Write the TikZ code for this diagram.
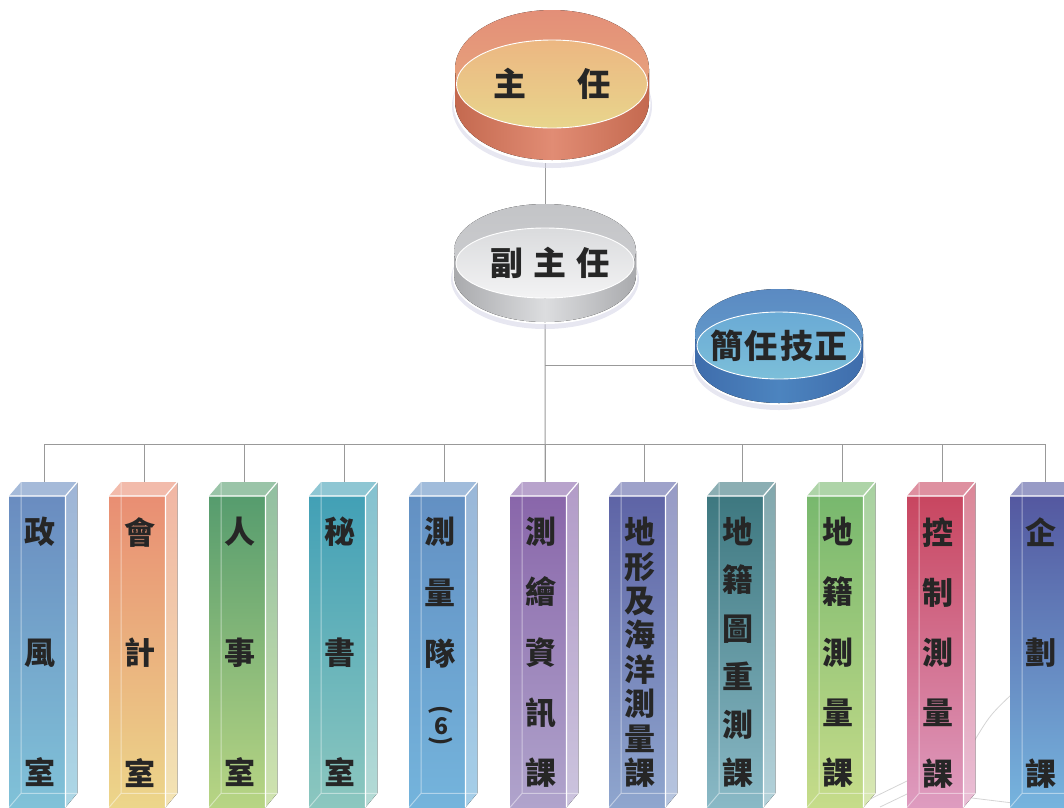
\documentclass[tikz,border=0pt]{standalone}
\usepackage{fontspec}
\newfontfamily\cjk{Noto Sans CJK TC}
\usetikzlibrary{positioning,shapes.geometric,backgrounds}

\definecolor{lavender}{HTML}{D3D3E6}
\definecolor{chiefrim}{HTML}{E38F78}
\definecolor{chiefrimb}{HTML}{E9AC7E}
\definecolor{chiefin}{HTML}{ECB782}
\definecolor{chiefinb}{HTML}{E8D58C}
\definecolor{chiefside}{HTML}{C4694F}
\definecolor{chiefshine}{HTML}{E18C74}
\definecolor{deputyrim}{HTML}{C3C4C7}
\definecolor{deputyrimb}{HTML}{CFD0D2}
\definecolor{deputyin}{HTML}{DADBDD}
\definecolor{deputyinb}{HTML}{F3F3F4}
\definecolor{deputyside}{HTML}{A9AAAD}
\definecolor{deputyshine}{HTML}{DCDDDF}
\definecolor{seniorrim}{HTML}{5B8AC2}
\definecolor{seniorrimb}{HTML}{66A2CF}
\definecolor{seniorin}{HTML}{6AAAD5}
\definecolor{seniorinb}{HTML}{7CBFD9}
\definecolor{seniorside}{HTML}{3F6DAC}
\definecolor{seniorshine}{HTML}{4C84BF}

\begin{document}
\begin{tikzpicture}[x=1pt, y=-1pt,
	colbox/.style={rectangle, minimum width=56pt, minimum height=311pt, inner sep=0pt, anchor=north west},
	coltext/.style={inner sep=0pt, align=center, text=black!85},
	paren/.style={inner sep=0pt, text=black!85, font=\cjk\bfseries\fontsize{23}{24}\selectfont},
	disk/.style={ellipse, inner xsep=-20pt, inner ysep=0pt, draw=white, line width=.9pt,
		font=\cjk\bfseries\fontsize{33}{36}\selectfont, text=black!85},
	wire/.style={draw=black!40, line width=1pt},
	glass/.style={draw=white, opacity=.45, line width=1pt},
	rim/.style={draw=white, line width=1.2pt},
	halo/.style={fill=lavender, opacity=.55},
	deco/.style={draw=black!17, line width=.8pt}]
	\useasboundingbox (0,0) rectangle (1064,807);

	% chief
	\fill[halo] (552,106) ellipse[x radius=100pt, y radius=62pt];
	\fill[white] (552,103) ellipse[x radius=98.5pt, y radius=60pt];
	\fill[left color=chiefside, right color=chiefside, middle color=chiefshine]
		(455,69) rectangle (649,101) (552,101) ellipse[x radius=97pt, y radius=59pt];
	\fill[top color=chiefrim, bottom color=chiefrimb] (552,69) ellipse[x radius=97pt, y radius=59pt];
	\node[disk, top color=chiefin, bottom color=chiefinb, minimum width=191pt, minimum height=88pt]
		(chief) at (552,84) {主\hspace{52pt}任};

	% deputy
	\fill[halo] (545,279) ellipse[x radius=94pt, y radius=50pt];
	\fill[white] (545,276) ellipse[x radius=92.5pt, y radius=48pt];
	\fill[left color=deputyside, right color=deputyside, middle color=deputyshine]
		(454,251) rectangle (636,275) (545,275) ellipse[x radius=91pt, y radius=47pt];
	\fill[top color=deputyrim, bottom color=deputyrimb] (545,251) ellipse[x radius=91pt, y radius=47pt];
	\node[disk, top color=deputyin, bottom color=deputyinb, minimum width=178pt, minimum height=70pt]
		(deputy) at (545,263) {\hspace{10pt}副\hspace{10pt}主\hspace{10pt}任};

	% senior
	\fill[halo] (779,362) ellipse[x radius=87pt, y radius=48pt];
	\fill[white] (779,359) ellipse[x radius=85.5pt, y radius=46pt];
	\fill[left color=seniorside, right color=seniorside, middle color=seniorshine]
		(695,334) rectangle (863,358) (779,358) ellipse[x radius=84pt, y radius=45pt];
	\fill[top color=seniorrim, bottom color=seniorrimb] (779,334) ellipse[x radius=84pt, y radius=45pt];
	\node[disk, top color=seniorin, bottom color=seniorinb, minimum width=164pt, minimum height=67pt]
		(senior) at (779,345.5) {簡\hspace{2pt}任\hspace{2pt}技\hspace{2pt}正\hspace{9pt}};

	% columns
	\foreach \i/\x/\ct/\cb/\g/\txt in {
		1/9/6A8CC0/80C2D8/120.5/{政\\風\\室},
		2/109/E98E73/ECD68A/120.5/{會\\計\\室},
		3/209/569C6E/B8D584/120.5/{人\\事\\室},
		4/309/42A0B6/8CC7BF/120.5/{秘\\書\\室},
		5/409/6390C3/74B4DC/61/{測\\量\\隊},
		6/510/8966AA/B0A4CC/60.25/{測\\繪\\資\\訊\\課},
		7/609/5E64A6/8FA6CE/34.4/{地\\形\\及\\海\\洋\\測\\量\\課},
		8/707/3E7880/8AB9C6/48.2/{地\\籍\\圖\\重\\測\\課},
		9/807/78B86E/C6DC8A/60.25/{地\\籍\\測\\量\\課},
		10/907/C84660/DE9CC0/60.25/{控\\制\\測\\量\\課},
		11/1010/5458A0/76B4DE/120.5/{企\\劃\\課}}{
		\definecolor{ctop}{HTML}{\ct}
		\definecolor{cbot}{HTML}{\cb}
		\node[colbox, top color=ctop, bottom color=cbot] (col\i) at (\x,496) {};
		\fill[top color=ctop!65!white, bottom color=cbot!65!white]
			(col\i.north east) -- ++(12,-14) -- ++(0,311) -- (col\i.south east) -- cycle;
		\fill[ctop!60!white] (col\i.north west) -- ++(12,-14) -- ++(56,0) -- (col\i.north east) -- cycle;
		\draw[glass] ([shift={(12,-14)}]col\i.north west) -- ([shift={(12,-14)}]col\i.south west) -- ++(56,0)
			([shift={(12,-14)}]col\i.south west) -- (col\i.south west);
		\draw[rim] (col\i.north west) -- (col\i.north east) -- (col\i.south east)
			(col\i.north east) -- ++(12,-14);
		\node[coltext, font=\cjk\bfseries\fontsize{31}{\g}\selectfont] (lab\i) [below=21pt of col\i.north, xshift=3pt] {\txt};
	}
	% (6) set upright in the vertical line
	\node[paren, rotate=-90] (open5) at ([shift={(4,214)}]col5.north) {(};
	\node[paren] (six5) at ([shift={(4,230)}]col5.north) {6};
	\node[paren, rotate=-90] (close5) at ([shift={(4,245)}]col5.north) {)};

	\begin{scope}[on background layer]
		\draw[deco] (973,743) .. controls (990,715) .. (1013,693) -- (1064,645);
		\draw[deco] (1013,693) -- (1064,703);
		\draw[deco] (1064,655) .. controls (1040,700) .. (1025,807);
		\draw[deco] (868,800) -- (907,781);
		\draw[deco] (880,807) -- (907,794);
		\draw[deco] (972,798) -- (1013,803);
		\draw[wire] (deputy.north |- chief.south) -- (deputy.north);
		\draw[wire] (deputy.south) -- ([shift={(7,-14)}]col6.north);
		\coordinate (fork) at (545,365);
		\draw[wire] (fork) -- (fork -| senior.west);
		\draw[wire] ([shift={(7,-52)}]col1.north) -- ([shift={(7,-52)}]col11.north);
		\foreach \i in {1,...,11}
			\draw[wire] ([shift={(7,-52)}]col\i.north) -- ([shift={(7,-14)}]col\i.north);
	\end{scope}
\end{tikzpicture}
\end{document}
